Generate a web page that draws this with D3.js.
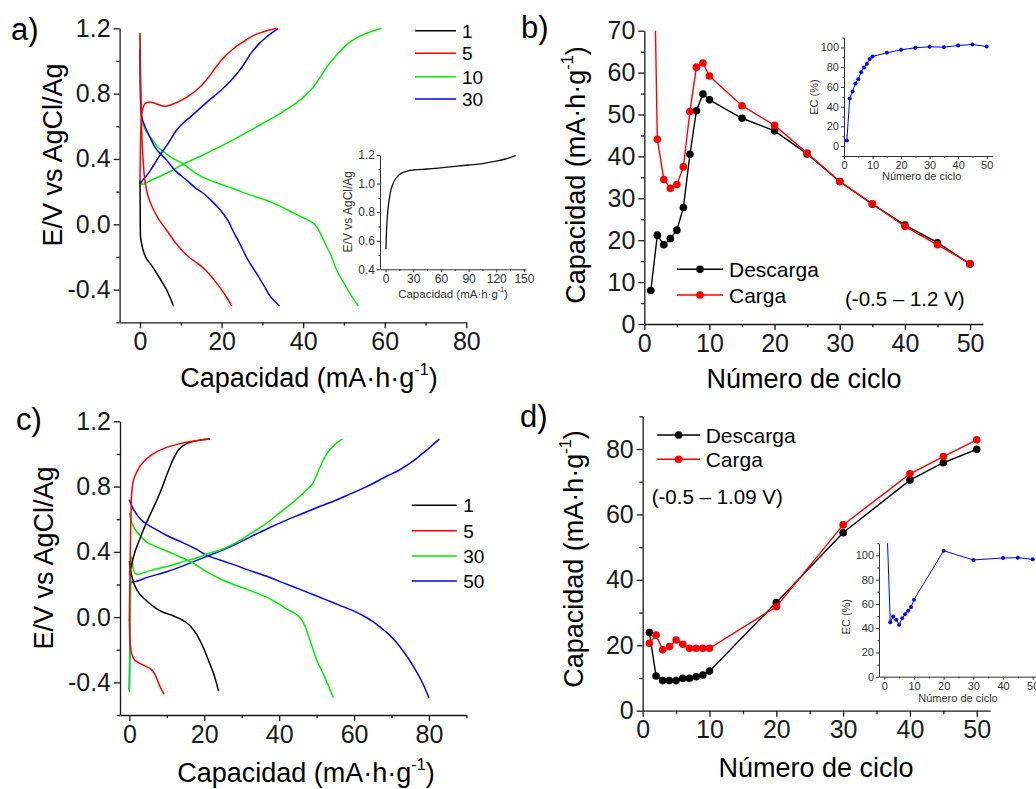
<!DOCTYPE html>
<html>
<head>
<meta charset="utf-8">
<script src="https://cdn.jsdelivr.net/npm/d3@7"></script>
<style>
  html, body { margin: 0; padding: 0; background: #fff; }
  svg { display: block; }
</style>
</head>
<body>
<svg id="fig" width="1036" height="789"></svg>
<script>
// ---------- Data: panel a) galvanostatic curves, window -0.5 – 1.2 V ----------
const aLegend = ["1", "5", "10", "30"];
const a1Discharge = [[0,0.27],[0.05,0.1],[0.15,-0.08],[0.4,-0.12],[0.9,-0.17],[1.6,-0.21],[2.8,-0.25],[4.1,-0.30],[5.3,-0.35],[6.5,-0.40],[7.4,-0.45],[8.2,-0.5]];
const a5Charge = [[0,0.27],[0.1,0.45],[0.3,0.62],[0.6,0.70],[1.2,0.738],[2.4,0.749],[4,0.738],[6.1,0.722],[8,0.735],[10.2,0.76],[12.5,0.795],[14.3,0.831],[16.5,0.89],[18.4,0.955],[20.5,1.02],[22.9,1.075],[25.5,1.12],[27.8,1.155],[30.5,1.18],[33.5,1.2]];
const a5Discharge = [[0,1.17],[0.1,0.95],[0.25,0.75],[0.4,0.58],[0.7,0.42],[1.2,0.27],[2,0.17],[3.2,0.095],[4.5,0.035],[6.5,-0.035],[8.6,-0.11],[10.5,-0.165],[12.2,-0.205],[14.7,-0.25],[16.8,-0.3],[18.8,-0.36],[20.8,-0.43],[22.5,-0.5]];
const a10Charge = [[0,0.25],[0.6,0.245],[2,0.26],[4.1,0.285],[6.5,0.312],[9,0.345],[11.5,0.38],[14.7,0.415],[17.5,0.45],[19.6,0.475],[21.2,0.495],[24.5,0.54],[27.8,0.586],[31,0.63],[34.3,0.678],[37,0.72],[39.2,0.76],[41,0.8],[42.5,0.84],[44.2,0.9],[45.8,0.963],[48,1.03],[50.7,1.1],[53,1.14],[55.6,1.17],[59.2,1.2]];
const a10Discharge = [[0,1.17],[0.05,1.0],[0.15,0.8],[0.4,0.66],[0.9,0.6],[1.5,0.57],[2.45,0.537],[4.5,0.47],[6.5,0.43],[8.5,0.398],[10.6,0.37],[13.5,0.315],[16.3,0.278],[19.6,0.247],[22.9,0.218],[27,0.18],[31,0.147],[34.5,0.11],[37.6,0.07],[40,0.04],[41.7,0.02],[42.8,0],[43.7,-0.03],[44.7,-0.08],[45.8,-0.139],[47,-0.2],[48.2,-0.28],[50,-0.36],[51.5,-0.424],[53.5,-0.5]];
const a30Charge = [[0,0.25],[1,0.28],[2,0.31],[3.3,0.36],[4.9,0.424],[6.5,0.48],[9,0.577],[10.6,0.62],[12.7,0.665],[14.7,0.71],[17,0.76],[19.6,0.815],[21.7,0.865],[23.7,0.92],[25.5,0.98],[27,1.04],[29,1.1],[31,1.147],[33.9,1.2]];
const a30Discharge = [[0,1.076],[0.05,0.9],[0.15,0.75],[0.4,0.66],[0.9,0.62],[1.6,0.577],[2.5,0.53],[4,0.46],[6.5,0.394],[8.6,0.33],[11.4,0.271],[13.5,0.225],[15.5,0.19],[17.5,0.145],[19.6,0.09],[21.5,0.025],[23,-0.05],[24.5,-0.12],[26.5,-0.22],[28.6,-0.302],[30.5,-0.38],[31.9,-0.44],[34.2,-0.5]];
// inset a): first charge
const aInsetCharge = [[0.5,0.54],[0.8,0.62],[1.3,0.7],[2,0.77],[3,0.84],[5,0.93],[7.5,0.99],[10,1.025],[13,1.05],[16,1.068],[20,1.08],[25,1.09],[30,1.095],[45,1.102],[60,1.11],[75,1.12],[90,1.13],[105,1.14],[118,1.155],[130,1.172],[141,1.195]];

// ---------- Data: panel b) capacity vs cycle, -0.5 – 1.2 V ----------
const bCycles = [1,2,3,4,5,6,7,8,9,10,15,20,25,30,35,40,45,50];
const bDescarga = [8.0,21.2,18.9,20.4,22.4,27.8,40.5,50.9,54.9,53.5,49.1,46.1,40.6,34.0,28.6,23.6,19.4,14.3];
const bCarga = [135,44.1,34.5,32.4,33.3,37.5,50.7,61.3,62.3,59.2,52.1,47.4,40.8,34.0,28.7,23.3,18.9,14.4];
const bEC = [5.7,48.3,55.4,63.5,67.9,75,79.7,83.4,88.2,90.9,94.6,97.6,99.7,100.7,100.3,102,103,101];

// ---------- Data: panel c) galvanostatic curves, window -0.5 – 1.09 V ----------
const cLegend = ["1", "5", "30", "50"];
const c1Charge = [[0,0.26],[0.6,0.32],[1.5,0.4],[2.8,0.48],[4.2,0.56],[5.8,0.64],[7.2,0.71],[8.5,0.78],[9.8,0.86],[10.9,0.925],[12,0.98],[13.3,1.03],[15.3,1.063],[18.9,1.085],[21.5,1.092]];
const c1Discharge = [[0,0.343],[0.3,0.29],[0.8,0.24],[1.5,0.19],[2.8,0.14],[4.6,0.1],[7.3,0.05],[9.5,0.025],[11.5,0.01],[13.5,-0.01],[15,-0.03],[16.5,-0.06],[17.8,-0.1],[19,-0.15],[20,-0.2],[21.2,-0.27],[22.4,-0.34],[23.2,-0.4],[23.8,-0.453]];
const c5Charge = [[0,-0.02],[0.2,0.3],[0.4,0.6],[0.7,0.78],[1.1,0.84],[2,0.89],[3,0.93],[4.6,0.97],[7,1.01],[10,1.04],[13,1.06],[16,1.075],[21.4,1.092]];
const c5Discharge = [[0,-0.015],[0.1,-0.1],[0.3,-0.18],[0.7,-0.23],[1.3,-0.26],[2.5,-0.28],[4.3,-0.3],[5.8,-0.32],[6.8,-0.35],[7.7,-0.40],[8.5,-0.44],[9.3,-0.473]];
const c30Charge = [[0,-0.46],[0.2,-0.1],[0.35,0.2],[0.45,0.37],[0.7,0.36],[1,0.3],[1.5,0.268],[2.5,0.263],[5.5,0.285],[10,0.31],[14.4,0.34],[18.9,0.37],[21,0.39],[24.2,0.41],[28,0.45],[32.2,0.51],[36,0.565],[40.2,0.64],[43.5,0.7],[46,0.75],[47.8,0.79],[48.7,0.81],[50,0.87],[51.3,0.94],[53,1.01],[55,1.06],[56.9,1.092]];
const c30Discharge = [[0,0.64],[0.4,0.6],[1.1,0.555],[2.85,0.5],[4.6,0.46],[7.3,0.43],[10,0.405],[13.5,0.37],[17.1,0.33],[20.5,0.28],[24.2,0.235],[27.8,0.2],[32,0.165],[37,0.118],[40,0.08],[42,0.05],[44,0.025],[45.6,-0.004],[46.9,-0.055],[48.5,-0.16],[50,-0.26],[52,-0.36],[54.5,-0.494]];
const c50Charge = [[0,-0.45],[0.15,-0.1],[0.3,0.2],[0.6,0.214],[2,0.22],[5,0.245],[10,0.278],[15,0.32],[21,0.375],[27.8,0.44],[32.2,0.49],[36.7,0.54],[41,0.585],[45.6,0.629],[50,0.67],[54.5,0.71],[59,0.755],[63.4,0.8],[68.7,0.863],[72,0.9],[74.1,0.93],[76,0.96],[77.6,0.99],[80,1.035],[82.8,1.092]];
const c50Discharge = [[0,0.72],[0.5,0.69],[1.1,0.66],[3,0.6],[5.5,0.557],[7.3,0.535],[10,0.5],[14.4,0.455],[18,0.415],[21,0.375],[24.2,0.35],[28,0.32],[32.2,0.285],[36.7,0.25],[41.1,0.21],[45.6,0.17],[50,0.129],[54.5,0.088],[58.9,0.047],[61.5,0.02],[63.4,-0.004],[65.2,-0.03],[66.9,-0.06],[69,-0.1],[71.4,-0.157],[73.5,-0.22],[75.8,-0.3],[78,-0.39],[80,-0.494]];

// ---------- Data: panel d) capacity vs cycle, -0.5 – 1.09 V ----------
const dCycles = [1,2,3,4,5,6,7,8,9,10,20,30,40,45,50];
const dDescarga = [23.9,10.6,9.2,9.2,9.2,9.9,9.9,10.4,10.9,12.1,33.1,54.4,70.5,75.8,79.9];
const dCarga = [20.6,23.1,18.6,19.6,21.6,20.3,19.1,19.1,19.1,19.1,31.8,56.8,72.4,77.7,82.8];
const dEC = [116,44.8,49.7,47,42.9,48.1,51.4,54.4,57.4,63.5,103.8,96.2,97.8,98.1,96.7];

// ---------- Shared styling ----------
const FONT = "'Liberation Sans', Arial, Helvetica, sans-serif";
const RED = "#ff0000", GREEN = "#00ee00", BLUE = "#0000ff", BLACK = "#000000";
const svg = d3.select("#fig");
svg.append("rect").attr("width", 1036).attr("height", 789).attr("fill", "#fff");
const defs = svg.append("defs");

function styleAxis(sel, fontSize, color, strokeW) {
  sel.selectAll("path.domain").attr("stroke", color).attr("stroke-width", strokeW);
  sel.selectAll(".tick line").attr("stroke", color).attr("stroke-width", strokeW);
  sel.selectAll(".tick text").attr("font-family", FONT).attr("font-size", fontSize).attr("fill", color);
}

// Left + bottom axes with labelled major ticks and unlabelled minor ticks
function drawAxes(g, x, y, o) {
  const y0 = o.xAxisY !== undefined ? o.xAxisY : y.range()[0];
  const x0 = o.yAxisX !== undefined ? o.yAxisX : x.range()[0];
  const xa = g.append("g").attr("transform", `translate(0,${y0})`)
    .call(d3.axisBottom(x).tickValues(o.xMajor).tickSize(o.tick).tickSizeOuter(0).tickPadding(o.pad).tickFormat(o.xFmt || (d => d)));
  styleAxis(xa, o.font, o.color, o.sw);
  xa.selectAll(".tick text").attr("dy", "0.75em");
  const xm = g.append("g").attr("transform", `translate(0,${y0})`)
    .call(d3.axisBottom(x).tickValues(o.xMinor).tickSize(o.tick * 0.55).tickFormat(""));
  xm.select("path.domain").remove();
  styleAxis(xm, o.font, o.color, o.sw);
  const ya = g.append("g").attr("transform", `translate(${x0},0)`)
    .call(d3.axisLeft(y).tickValues(o.yMajor).tickSize(o.tick).tickSizeOuter(0).tickPadding(o.pad).tickFormat(o.yFmt || (d => d)));
  styleAxis(ya, o.font, o.color, o.sw);
  const ym = g.append("g").attr("transform", `translate(${x0},0)`)
    .call(d3.axisLeft(y).tickValues(o.yMinor).tickSize(o.tick * 0.55).tickFormat(""));
  ym.select("path.domain").remove();
  styleAxis(ym, o.font, o.color, o.sw);
}

// Text with a "-1" superscript for the g^-1 unit
function capTitle(sel) {
  sel.append("tspan").text("Capacidad (mA·h·g");
  sel.append("tspan").attr("font-size", "60%").attr("dy", "-0.75em").text("-1");
  sel.append("tspan").attr("dy", "0.45em").text(")");
}

function label(x, y, txt, size, opts = {}) {
  const t = svg.append("text").attr("x", x).attr("y", y)
    .attr("font-family", FONT).attr("font-size", size)
    .attr("fill", opts.color || "#000")
    .attr("text-anchor", opts.anchor || "start");
  if (opts.rotate) t.attr("transform", `rotate(-90,${x},${y})`);
  if (txt) t.text(txt);
  return t;
}

function clipRect(id, x, y) {
  defs.append("clipPath").attr("id", id).append("rect")
    .attr("x", x.range()[0]).attr("y", y.range()[1])
    .attr("width", x.range()[1] - x.range()[0]).attr("height", y.range()[0] - y.range()[1]);
  return `url(#${id})`;
}

const curve = d3.curveCatmullRom.alpha(0.5);
function drawCurves(x, y, series) {
  const line = d3.line().x(d => x(d[0])).y(d => y(d[1])).curve(curve);
  series.forEach(s => {
    svg.append("path").datum(s.data).attr("d", line)
      .attr("fill", "none").attr("stroke", s.color).attr("stroke-width", 1.5)
      .attr("stroke-linejoin", "round");
  });
}

function drawLegendLines(x0, x1, tx, rows, names, colors, size) {
  names.forEach((n, i) => {
    svg.append("line").attr("x1", x0).attr("x2", x1).attr("y1", rows[i]).attr("y2", rows[i])
      .attr("stroke", colors[i]).attr("stroke-width", 1.5);
    label(tx, rows[i] + size * 0.36, n, size);
  });
}

const mainAxis = { tick: 6, pad: 3, font: 25, color: "#1a1a1a", sw: 1.3 };

// =================== Panel a ===================
{
  const x = d3.scaleLinear().domain([-5, 80]).range([119.6, 466.3]);
  const y = d3.scaleLinear().domain([-0.6, 1.2]).range([322.3, 28.3]);
  drawAxes(svg.append("g"), x, y, Object.assign({}, mainAxis, {
    xMajor: [0, 20, 40, 60, 80], xMinor: [10, 30, 50, 70],
    yMajor: [-0.4, 0, 0.4, 0.8, 1.2], yMinor: [-0.6, -0.2, 0.2, 0.6, 1.0],
    yFmt: d => d.toFixed(1)
  }));
  drawCurves(x, y, [
    { data: a10Charge, color: GREEN }, { data: a10Discharge, color: GREEN },
    { data: a30Charge, color: BLUE }, { data: a30Discharge, color: BLUE },
    { data: a5Charge, color: RED }, { data: a5Discharge, color: RED },
    { data: a1Discharge, color: BLACK }
  ]);
  drawLegendLines(415, 456, 462, [30.7, 53.3, 76.7, 99], aLegend, [BLACK, RED, GREEN, BLUE], 19);
  label(309, 387, null, 27, { anchor: "middle" }).call(capTitle);
  label(62, 155, "E/V vs AgCl/Ag", 27, { anchor: "middle", rotate: true });
  label(11, 40, "a)", 31);

  // inset: first charge curve
  const xi = d3.scaleLinear().domain([-6, 152]).range([380, 525.8]);
  const yi = d3.scaleLinear().domain([0.4, 1.2]).range([269.3, 155]);
  drawAxes(svg.append("g"), xi, yi, {
    tick: 3, pad: 2, font: 12, color: "#333", sw: 1,
    xMajor: [0, 30, 60, 90, 120, 150], xMinor: [15, 45, 75, 105, 135],
    yMajor: [0.4, 0.6, 0.8, 1.0, 1.2], yMinor: [0.5, 0.7, 0.9, 1.1],
    yFmt: d => d.toFixed(1)
  });
  svg.append("path").datum(aInsetCharge)
    .attr("d", d3.line().x(d => xi(d[0])).y(d => yi(d[1])).curve(d3.curveMonotoneX))
    .attr("fill", "none").attr("stroke", "#111").attr("stroke-width", 1.3);
  label(453, 297.5, null, 11.5, { anchor: "middle", color: "#333" }).call(capTitle);
  label(352, 211.7, "E/V vs AgCl/Ag", 12, { anchor: "middle", rotate: true, color: "#333" });
}

// =================== Panel b ===================
function cyclePanel(x, y, cycles, desc, carga, clipId) {
  const clip = clipRect(clipId, x, y);
  const sets = [{ v: desc, c: BLACK }, { v: carga, c: RED }];
  const line = d3.line().x(d => x(d[0])).y(d => y(d[1]));
  sets.forEach(s => {
    const pts = cycles.map((c, i) => [c, s.v[i]]);
    const g = svg.append("g").attr("clip-path", clip);
    g.append("path").datum(pts).attr("d", line).attr("fill", "none")
      .attr("stroke", s.c).attr("stroke-width", 1.4);
    g.selectAll("circle").data(pts).enter().append("circle")
      .attr("cx", d => x(d[0])).attr("cy", d => y(d[1])).attr("r", 3.8).attr("fill", s.c);
  });
}
function cycleLegend(x0, x1, tx, y1, y2, size) {
  [[y1, BLACK, "Descarga"], [y2, RED, "Carga"]].forEach(([yy, c, n]) => {
    svg.append("line").attr("x1", x0).attr("x2", x1).attr("y1", yy).attr("y2", yy)
      .attr("stroke", c).attr("stroke-width", 1.4);
    svg.append("circle").attr("cx", (x0 + x1) / 2).attr("cy", yy).attr("r", 3.8).attr("fill", c);
    label(tx, yy + size * 0.36, n, size);
  });
}
function ecInset(x, y, cycles, ec, clipId) {
  const clip = clipRect(clipId, x, y);
  const pts = cycles.map((c, i) => [c, ec[i]]);
  const g = svg.append("g").attr("clip-path", clip);
  g.append("path").datum(pts).attr("d", d3.line().x(d => x(d[0])).y(d => y(d[1])))
    .attr("fill", "none").attr("stroke", BLUE).attr("stroke-width", 1);
  g.selectAll("circle").data(pts).enter().append("circle")
    .attr("cx", d => x(d[0])).attr("cy", d => y(d[1])).attr("r", 2).attr("fill", BLUE);
}

{
  const x = d3.scaleLinear().domain([0, 52]).range([644.3, 983.1]);
  const y = d3.scaleLinear().domain([0, 70]).range([324, 30.7]);
  drawAxes(svg.append("g"), x, y, Object.assign({}, mainAxis, {
    xMajor: [0, 10, 20, 30, 40, 50], xMinor: [5, 15, 25, 35, 45],
    yMajor: [0, 10, 20, 30, 40, 50, 60, 70], yMinor: [5, 15, 25, 35, 45, 55, 65]
  }));
  cyclePanel(x, y, bCycles, bDescarga, bCarga, "clipB");
  cycleLegend(677, 723, 729, 269.3, 295, 21);
  label(845, 306, "(-0.5 – 1.2 V)", 20.5);
  label(804, 388, "Número de ciclo", 27, { anchor: "middle" });
  label(585, 175, null, 27, { anchor: "middle", rotate: true }).call(capTitle);
  label(521, 38, "b)", 31);

  const xi = d3.scaleLinear().domain([0, 52]).range([844, 992.4]);
  const yi = d3.scaleLinear().domain([-10, 110]).range([156, 37.6]);
  drawAxes(svg.append("g"), xi, yi, {
    tick: 3, pad: 2, font: 11, color: "#333", sw: 1,
    xMajor: [0, 10, 20, 30, 40, 50], xMinor: [5, 15, 25, 35, 45],
    yMajor: [0, 20, 40, 60, 80, 100], yMinor: [-10, 10, 30, 50, 70, 90, 110]
  });
  ecInset(xi, yi, bCycles, bEC, "clipBi");
  label(921.7, 180, "Número de ciclo", 11, { anchor: "middle", color: "#333" });
  label(818, 97, "EC (%)", 11, { anchor: "middle", rotate: true, color: "#333" });
}

// =================== Panel c ===================
{
  const x = d3.scaleLinear().domain([-2.5, 90]).range([120, 466.4]);
  const y = d3.scaleLinear().domain([-0.6, 1.2]).range([715, 421.3]);
  drawAxes(svg.append("g"), x, y, Object.assign({}, mainAxis, {
    xMajor: [0, 20, 40, 60, 80], xMinor: [10, 30, 50, 70, 90],
    yMajor: [-0.4, 0, 0.4, 0.8, 1.2], yMinor: [-0.6, -0.2, 0.2, 0.6, 1.0],
    yFmt: d => d.toFixed(1)
  }));
  drawCurves(x, y, [
    { data: c50Charge, color: BLUE }, { data: c50Discharge, color: BLUE },
    { data: c30Charge, color: GREEN }, { data: c30Discharge, color: GREEN },
    { data: c1Charge, color: BLACK }, { data: c1Discharge, color: BLACK },
    { data: c5Charge, color: RED }, { data: c5Discharge, color: RED }
  ]);
  drawLegendLines(411.7, 456.7, 463.3, [505.3, 530.7, 556, 581], cLegend, [BLACK, RED, GREEN, BLUE], 19);
  label(306, 781.7, null, 27, { anchor: "middle" }).call(capTitle);
  label(53.3, 558, "E/V vs AgCl/Ag", 27, { anchor: "middle", rotate: true });
  label(16, 430, "c)", 31);
}

// =================== Panel d ===================
{
  const x = d3.scaleLinear().domain([0, 52]).range([642.7, 990.1]);
  const y = d3.scaleLinear().domain([0, 90]).range([710.7, 416.3]);
  drawAxes(svg.append("g"), x, y, Object.assign({}, mainAxis, {
    xMajor: [0, 10, 20, 30, 40, 50], xMinor: [5, 15, 25, 35, 45],
    yMajor: [0, 20, 40, 60, 80], yMinor: [10, 30, 50, 70, 90]
  }));
  cyclePanel(x, y, dCycles, dDescarga, dCarga, "clipD");
  cycleLegend(657.3, 700, 705.7, 435, 459.3, 21);
  label(651.7, 504, "(-0.5 – 1.09 V)", 20.5);
  label(816, 777, "Número de ciclo", 27, { anchor: "middle" });
  label(583.3, 559, null, 27, { anchor: "middle", rotate: true }).call(capTitle);
  label(520, 427, "d)", 31);

  const xi = d3.scaleLinear().domain([-1.8, 52]).range([879, 1038.6]);
  const yi = d3.scaleLinear().domain([0, 110]).range([676.7, 543.2]);
  drawAxes(svg.append("g"), xi, yi, {
    tick: 3, pad: 2, font: 11, color: "#333", sw: 1,
    xMajor: [0, 10, 20, 30, 40, 50], xMinor: [5, 15, 25, 35, 45],
    yMajor: [0, 20, 40, 60, 80, 100], yMinor: [10, 30, 50, 70, 90, 110]
  });
  ecInset(xi, yi, dCycles, dEC, "clipDi");
  label(958, 701.7, "Número de ciclo", 11, { anchor: "middle", color: "#333" });
  label(850, 616.7, "EC (%)", 11, { anchor: "middle", rotate: true, color: "#333" });
}
</script>
</body>
</html>
